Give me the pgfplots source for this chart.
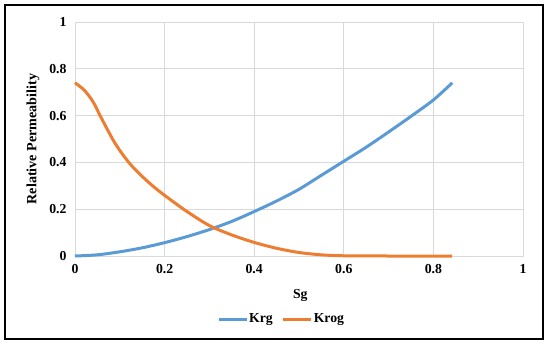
\documentclass[border=0pt]{standalone}
\usepackage{pgfplots}
\pgfplotsset{compat=1.18}
\usepackage{fontspec}
\setmainfont{Liberation Serif}
\definecolor{cblue}{HTML}{5B9BD5}
\definecolor{corange}{HTML}{ED7D31}
\definecolor{cgrid}{HTML}{D9D9D9}
\begin{document}
\begin{tikzpicture}[x=1bp,y=1bp]
\path (0,0) rectangle (550,345);
\draw[line width=2.5bp] (5,6) rectangle (543,340);
\begin{axis}[
  at={(75bp,89bp)}, anchor=south west,
  scale only axis, width=448bp, height=234bp,
  xmin=0, xmax=1, ymin=0, ymax=1,
  xtick={0,0.2,...,1.0}, ytick={0,0.2,...,1.0},
  xticklabels={0,0.2,0.4,0.6,0.8,1},
  yticklabels={0,0.2,0.4,0.6,0.8,1},
  grid=major, major grid style={cgrid, line width=0.9bp},
  axis line style={cgrid, line width=0.9bp},
  tick style={draw=none},
  ticklabel style={font=\fontsize{13.8}{15}\selectfont\bfseries},
  xticklabel style={yshift=-5bp},
  yticklabel style={xshift=-5bp},
  xlabel={Sg}, ylabel={Relative Permeability},
  xlabel style={font=\fontsize{13.8}{15}\selectfont\bfseries, at={(axis description cs:0.503,-0.167)}, anchor=center},
  ylabel style={font=\fontsize{14.2}{16}\selectfont\bfseries, at={(axis description cs:-0.094,0.5)}, anchor=center},
  legend style={draw=none, at={(0.46,-0.27)}, anchor=center, font=\fontsize{13.8}{15}\selectfont\bfseries, legend columns=2, /tikz/every even column/.append style={column sep=8bp}, nodes={inner sep=1bp}},
  legend image code/.code={\draw[#1, line width=3bp] (0bp,0bp) -- (28bp,0bp);},
  clip=false,
]
\addplot[cblue, line width=3bp, line join=round, smooth] coordinates {
(0,0) (0.05,0.005) (0.1,0.018) (0.15,0.035) (0.2,0.057) (0.25,0.083) (0.3,0.113) (0.35,0.148) (0.4,0.19) (0.45,0.235) (0.5,0.285) (0.55,0.345) (0.6,0.405) (0.65,0.465) (0.7,0.53) (0.75,0.597) (0.8,0.667) (0.842,0.74)
};
\addlegendentry{Krg}
\addplot[corange, line width=3bp, line join=round, smooth] coordinates {
(0,0.74) (0.02,0.71) (0.04,0.66) (0.06,0.585) (0.09,0.48) (0.12,0.40) (0.15,0.34) (0.18,0.289) (0.21,0.245) (0.25,0.19) (0.3,0.13) (0.35,0.09) (0.4,0.058) (0.45,0.033) (0.5,0.015) (0.55,0.005) (0.6,0.001) (0.7,0) (0.842,0)
};
\addlegendentry{Krog}
\end{axis}
\end{tikzpicture}
\end{document}
